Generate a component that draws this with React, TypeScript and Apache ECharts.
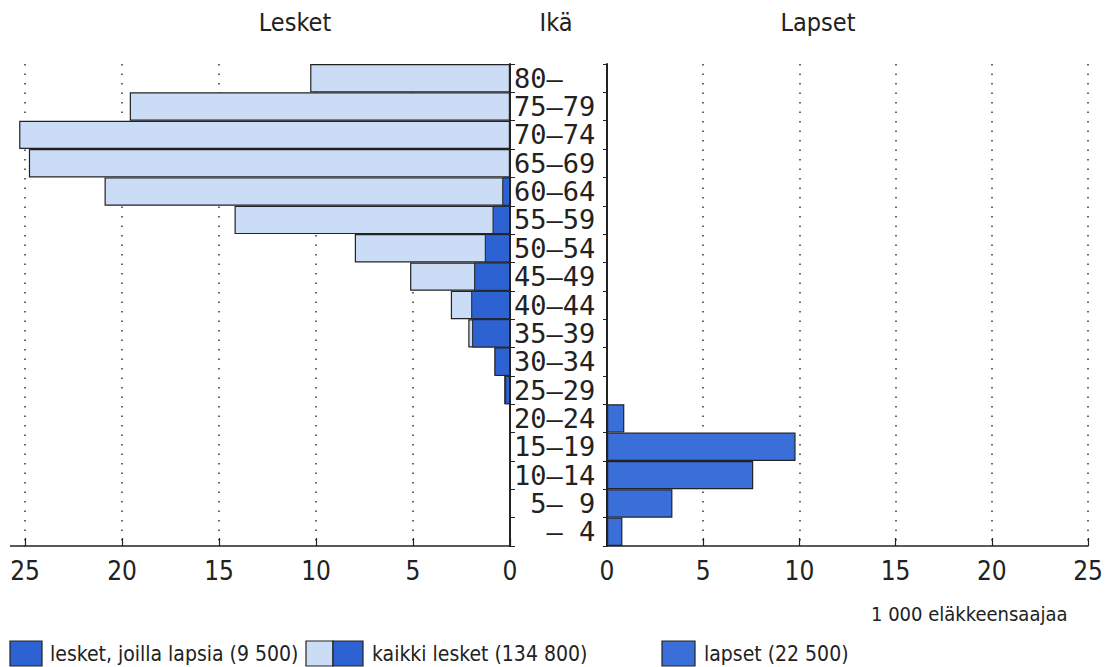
import React, { useEffect, useRef } from "react";
import * as echarts from "echarts";

const ageGroups = ["  – 4", " 5– 9", "10–14", "15–19", "20–24", "25–29", "30–34", "35–39", "40–44", "45–49", "50–54", "55–59", "60–64", "65–69", "70–74", "75–79", "80–"];
const kaikkiLesket = [null, null, null, null, null, 0.3, 0.8, 2.15, 3.05, 5.15, 8.0, 14.2, 20.9, 24.8, 25.3, 19.6, 10.3];
const lesketJoillaLapsia = [null, null, null, null, null, 0.25, 0.8, 1.95, 2.0, 1.85, 1.3, 0.9, 0.4, null, null, null, null];
const lapset = [0.8, 3.4, 7.6, 9.8, 0.9, null, null, null, null, null, null, null, null, null, null, null, null];

const DARK = "#2d62d2";
const LIGHT = "#cadcf6";
const INK = "#222";
const FONT = "'DejaVu Sans Condensed', 'DejaVu Sans', sans-serif";

export default function App() {
  const ref = useRef<HTMLDivElement>(null);
  useEffect(() => {
    const chart = echarts.init(ref.current!, null, { renderer: "svg" });
    const xAxisBase = {
      type: "value",
      min: 0,
      max: 25,
      interval: 5,
      axisLine: { show: true, lineStyle: { color: INK, width: 1.5 } },
      axisTick: { show: true, inside: true, length: 8, lineStyle: { color: INK, width: 1.2 } },
      axisLabel: { fontSize: 26, color: INK, fontFamily: FONT, margin: 12 },
      splitLine: { show: true, lineStyle: { color: "#333", width: 1.5, type: [1.5, 8] } },
    };
    chart.setOption({
      animation: false,
      grid: [
        { left: 25, right: 1112 - 510, top: 64, bottom: 121 },
        { left: 607, right: 1112 - 1088, top: 64, bottom: 121 },
      ],
      xAxis: [
        { ...xAxisBase, gridIndex: 0, inverse: true },
        { ...xAxisBase, gridIndex: 1 },
      ],
      yAxis: [
        {
          type: "category",
          gridIndex: 0,
          position: "right",
          data: ageGroups,
          axisLine: { show: true, onZero: false, lineStyle: { color: INK, width: 2 } },
          axisTick: { show: true, length: 5, lineStyle: { color: INK } },
          axisLabel: {
            show: true,
            interval: 0,
            hideOverlap: false,
            align: "left",
            margin: 4,
            fontSize: 27,
            lineHeight: 26,
            color: INK,
            fontFamily: "'DejaVu Sans Mono', monospace",
          },
          splitLine: { show: false },
        },
        {
          type: "category",
          gridIndex: 1,
          data: ageGroups,
          axisLine: { show: true, onZero: false, lineStyle: { color: INK, width: 2 } },
          axisTick: { show: true, length: 4, lineStyle: { color: INK } },
          axisLabel: { show: false },
          splitLine: { show: false },
        },
      ],
      series: [
        {
          name: "kaikki lesket (134 800)",
          type: "bar",
          xAxisIndex: 0,
          yAxisIndex: 0,
          data: kaikkiLesket,
          clip: false,
          barCategoryGap: "0%",
          barGap: "-100%",
          itemStyle: { color: LIGHT, borderColor: INK, borderWidth: 1.2 },
        },
        {
          name: "lesket, joilla lapsia (9 500)",
          type: "bar",
          xAxisIndex: 0,
          yAxisIndex: 0,
          data: lesketJoillaLapsia,
          clip: false,
          barCategoryGap: "0%",
          barGap: "-100%",
          itemStyle: { color: DARK, borderColor: INK, borderWidth: 1 },
        },
        {
          name: "lapset (22 500)",
          type: "bar",
          xAxisIndex: 1,
          yAxisIndex: 1,
          data: lapset,
          barCategoryGap: "0%",
          itemStyle: { color: "#3a6fd9", borderColor: INK, borderWidth: 1.2 },
        },
      ],
      graphic: [
        { type: "line", shape: { x1: 10, y1: 546, x2: 25, y2: 546 }, style: { stroke: INK, lineWidth: 1.5 } },
        { type: "text", x: 295, y: 22, style: { text: "Lesket", fontSize: 25, fontFamily: FONT, fill: INK, textAlign: "center", textVerticalAlign: "middle" } },
        { type: "text", x: 556, y: 22, style: { text: "Ikä", fontSize: 25, fontFamily: FONT, fill: INK, textAlign: "center", textVerticalAlign: "middle" } },
        { type: "text", x: 818, y: 22, style: { text: "Lapset", fontSize: 25, fontFamily: FONT, fill: INK, textAlign: "center", textVerticalAlign: "middle" } },
        { type: "text", x: 871, y: 614, style: { text: "1 000 eläkkeensaajaa", fontSize: 20, fontFamily: FONT, fill: INK, textAlign: "left", textVerticalAlign: "middle" } },
        { type: "rect", shape: { x: 10, y: 641, width: 32, height: 25 }, style: { fill: DARK, stroke: INK, lineWidth: 1.2 } },
        { type: "text", x: 50, y: 654, style: { text: "lesket, joilla lapsia (9 500)", fontSize: 21, fontFamily: FONT, fill: INK, textAlign: "left", textVerticalAlign: "middle" } },
        { type: "rect", shape: { x: 306, y: 641, width: 27, height: 25 }, style: { fill: LIGHT, stroke: INK, lineWidth: 1.2 } },
        { type: "rect", shape: { x: 333, y: 641, width: 30, height: 25 }, style: { fill: DARK, stroke: INK, lineWidth: 1.2 } },
        { type: "text", x: 372, y: 654, style: { text: "kaikki lesket (134 800)", fontSize: 21, fontFamily: FONT, fill: INK, textAlign: "left", textVerticalAlign: "middle" } },
        { type: "rect", shape: { x: 662, y: 641, width: 33, height: 25 }, style: { fill: "#3a6fd9", stroke: INK, lineWidth: 1.2 } },
        { type: "text", x: 704, y: 654, style: { text: "lapset (22 500)", fontSize: 21, fontFamily: FONT, fill: INK, textAlign: "left", textVerticalAlign: "middle" } },
      ],
    });
    return () => chart.dispose();
  }, []);
  return (
    <div
      ref={ref}
      style={{ position: "absolute", left: 0, top: 0, width: 1112, height: 667, background: "#fff" }}
    />
  );
}
